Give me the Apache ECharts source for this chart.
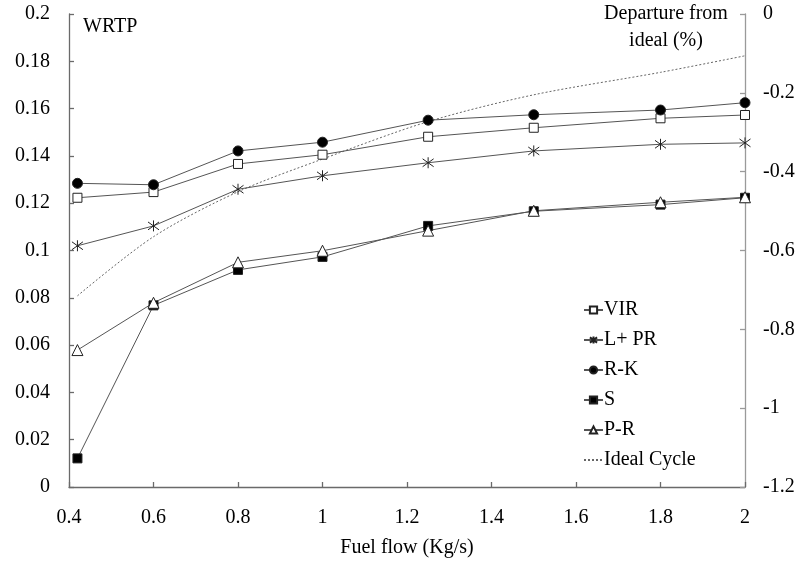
<!DOCTYPE html>
<html>
<head>
<meta charset="utf-8">
<script src="https://cdn.jsdelivr.net/npm/echarts@6/dist/echarts.min.js"></script>
<style>
  html, body { margin: 0; padding: 0; background: #fff; }
  #chart { width: 799px; height: 563px; }
</style>
</head>
<body>
<div id="chart"></div>
<script>
// Fuel flow (kg/s) sample points
const fuelFlow = [0.42, 0.6, 0.8, 1.0, 1.25, 1.5, 1.8, 2.0];

// WRTP for each cycle model (left axis)
const vir  = [0.1223, 0.1247, 0.1366, 0.1405, 0.1481, 0.1519, 0.1559, 0.1573];
const lpr  = [0.1020, 0.1104, 0.1259, 0.1316, 0.1371, 0.1421, 0.1449, 0.1455];
const rk   = [0.1284, 0.1278, 0.1421, 0.1458, 0.1551, 0.1574, 0.1594, 0.1625];
const s    = [0.0121, 0.0768, 0.0918, 0.0973, 0.1104, 0.1166, 0.1194, 0.1223];
const pr   = [0.0579, 0.0779, 0.0950, 0.0999, 0.1084, 0.1168, 0.1204, 0.1225];

// Departure from ideal cycle, % (right axis)
const ideal = [-0.715, -0.565, -0.451, -0.368, -0.273, -0.205, -0.148, -0.106];

const seriesNames = ['VIR', 'L+ PR', 'R-K', 'S', 'P-R', 'Ideal Cycle'];

const FONT = '"Liberation Serif", "Times New Roman", serif';
const FONT_SIZE = 20;
const AXIS_GREY = '#6a6a6a';
const RIGHT_AXIS_GREY = '#9a9a9a';
const LINE_GREY = '#555';

const pair = (xs, ys) => xs.map((x, i) => [x, ys[i]]);

// six-armed asterisk: an X with a vertical bar
const asterisk = 'path://M0,0L10,10M10,0L0,10M5,-2L5,12';

function markerSeries(name, values, symbol, size, fill) {
  return {
    name: name,
    type: 'line',
    yAxisIndex: 0,
    data: pair(fuelFlow, values),
    symbol: symbol,
    symbolSize: size,
    showAllSymbol: true,
    lineStyle: { color: LINE_GREY, width: 1 },
    itemStyle: { color: fill, borderColor: '#222', borderWidth: 1 },
    emphasis: { disabled: true },
    z: 3
  };
}

function axisStyle(color, margin) {
  return {
    axisLine: { show: true, lineStyle: { color: color, width: 1.3 } },
    axisTick: { show: true, inside: true, length: 5, lineStyle: { color: color, width: 1.3 } },
    splitLine: { show: false },
    axisLabel: { color: '#000', fontFamily: FONT, fontSize: FONT_SIZE, margin: margin }
  };
}

const chart = echarts.init(document.getElementById('chart'), null, { renderer: 'canvas' });

chart.setOption({
  animation: false,
  backgroundColor: '#fff',
  textStyle: { fontFamily: FONT },
  grid: { left: 69, right: 54, top: 14, bottom: 76, containLabel: false },
  xAxis: Object.assign({
    type: 'value',
    min: 0.4,
    max: 2,
    interval: 0.2,
    name: 'Fuel flow (Kg/s)',
    nameLocation: 'middle',
    nameGap: 51,
    nameTextStyle: { color: '#000', fontFamily: FONT, fontSize: FONT_SIZE }
  }, axisStyle(AXIS_GREY, 21)),
  yAxis: [
    Object.assign({
      type: 'value',
      position: 'left',
      min: 0,
      max: 0.2,
      interval: 0.02
    }, axisStyle(AXIS_GREY, 19)),
    Object.assign({
      type: 'value',
      position: 'right',
      min: -1.2,
      max: 0,
      interval: 0.2
    }, axisStyle(RIGHT_AXIS_GREY, 18))
  ],
  legend: {
    orient: 'vertical',
    left: 578,
    top: 295,
    itemWidth: 19,
    itemHeight: 9,
    itemGap: 10,
    selectedMode: false,
    textStyle: { color: '#000', fontFamily: FONT, fontSize: FONT_SIZE, lineHeight: 20, padding: [0, 0, 0, -4] },
    data: seriesNames.map(function (n) {
      if (n === 'Ideal Cycle') {
        return { name: n, itemStyle: { color: 'transparent', borderWidth: 0 } };
      }
      return { name: n };
    })
  },
  graphic: [
    {
      type: 'text',
      left: 83,
      top: 17,
      style: { text: 'WRTP', fill: '#000', font: FONT_SIZE + 'px ' + FONT }
    },
    {
      type: 'text',
      x: 666,
      y: 0,
      style: {
        text: 'Departure from\nideal (%)',
        fill: '#000',
        font: FONT_SIZE + 'px ' + FONT,
        align: 'center',
        verticalAlign: 'top',
        lineHeight: 27
      }
    }
  ],
  series: [
    markerSeries('VIR', vir, 'rect', 9, '#fff'),
    markerSeries('L+ PR', lpr, asterisk, 11, 'none'),
    markerSeries('R-K', rk, 'circle', 10, '#000'),
    markerSeries('S', s, 'rect', 9, '#000'),
    markerSeries('P-R', pr, 'triangle', 11, '#fff'),
    {
      name: 'Ideal Cycle',
      type: 'line',
      yAxisIndex: 1,
      data: pair(fuelFlow, ideal),
      smooth: 0.3,
      symbol: 'none',
      lineStyle: { color: '#666', width: 1, type: [2, 2] },
      itemStyle: { color: '#666' },
      emphasis: { disabled: true },
      z: 2
    }
  ]
});
</script>
</body>
</html>
